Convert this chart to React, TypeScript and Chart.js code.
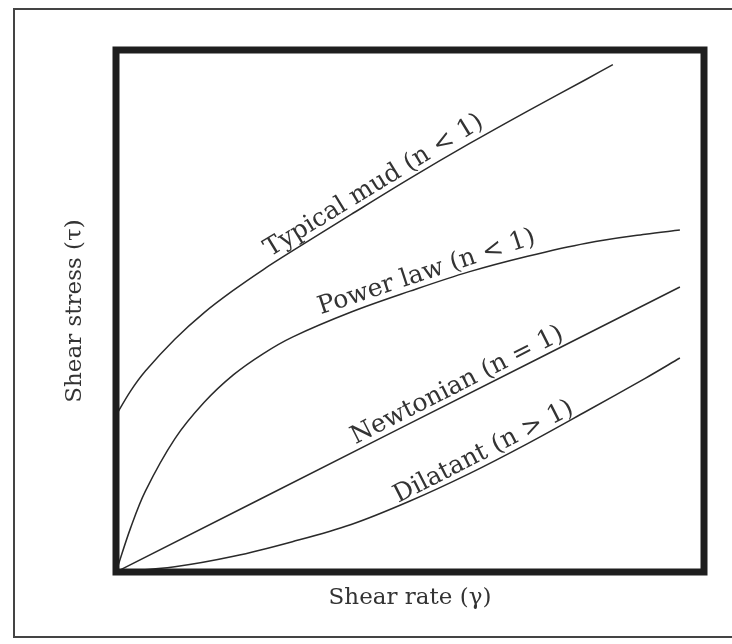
import { useEffect, useRef } from "react";
import { Chart, registerables } from "chart.js";

Chart.register(...registerables);

// Shear rate (fraction of axis) and shear stress (fraction of axis)
const typicalMudX = [0, 0.025, 0.05, 0.1, 0.15, 0.2, 0.25, 0.3, 0.4, 0.5, 0.6, 0.7, 0.8, 0.845];
const typicalMudY = [0.3, 0.347, 0.385, 0.446, 0.497, 0.54, 0.579, 0.615, 0.685, 0.754, 0.82, 0.883, 0.944, 0.972];

const powerLawX = [0, 0.025, 0.05, 0.1, 0.15, 0.2, 0.25, 0.3, 0.4, 0.5, 0.6, 0.7, 0.8, 0.9, 0.959];
const powerLawY = [0, 0.085, 0.155, 0.255, 0.325, 0.378, 0.418, 0.45, 0.498, 0.538, 0.575, 0.605, 0.63, 0.647, 0.655];

const newtonianX = [0, 0.483, 0.959];
const newtonianY = [0, 0.275, 0.546];

const dilatantX = [0, 0.1, 0.2, 0.3, 0.4, 0.5, 0.6, 0.7, 0.8, 0.9, 0.959];
const dilatantY = [0, 0.01, 0.03, 0.058, 0.091, 0.136, 0.188, 0.246, 0.308, 0.371, 0.41];

const curveLabels = ["Typical mud (n < 1)", "Power law (n < 1)", "Newtonian (n = 1)", "Dilatant (n > 1)"];
const labelCenterX = [0.45, 0.535, 0.59, 0.635];

const xAxisTitle = "Shear rate (γ)";
const yAxisTitle = "Shear stress (τ)";

const FONT = "'DejaVu Serif', 'Liberation Serif', serif";
const INK = "#2a2a2a";
const TEXT = "#333333";

export default function App() {
  const ref = useRef<HTMLCanvasElement>(null);

  useEffect(() => {
    const toPts = (xs: number[], ys: number[]) => xs.map((x, i) => ({ x, y: ys[i] }));
    const series = [
      toPts(typicalMudX, typicalMudY),
      toPts(powerLawX, powerLawY),
      toPts(newtonianX, newtonianY),
      toPts(dilatantX, dilatantY),
    ];

    const framePlugin = {
      id: "frame",
      beforeDraw(chart: any) {
        const ctx = chart.ctx;
        ctx.save();
        ctx.fillStyle = "#ffffff";
        ctx.fillRect(0, 0, chart.width, chart.height);
        ctx.strokeStyle = "#444444";
        ctx.lineWidth = 2;
        ctx.strokeRect(14, 9, chart.width + 20, 628);
        ctx.restore();
      },
      afterDatasetsDraw(chart: any) {
        const ctx = chart.ctx;
        const { left, right, top, bottom } = chart.chartArea;
        const xs = chart.scales.x;
        const ys = chart.scales.y;
        ctx.save();
        ctx.strokeStyle = "#1e1e1e";
        ctx.lineWidth = 7;
        ctx.lineJoin = "miter";
        ctx.strokeRect(left, top, right - left, bottom - top);

        const interp = (pts: { x: number; y: number }[], v: number) => {
          for (let i = 1; i < pts.length; i++) {
            if (v <= pts[i].x) {
              const a = pts[i - 1];
              const b = pts[i];
              const t = (v - a.x) / (b.x - a.x);
              return a.y + t * (b.y - a.y);
            }
          }
          return pts[pts.length - 1].y;
        };

        ctx.fillStyle = TEXT;
        ctx.font = `25px ${FONT}`;
        ctx.textAlign = "center";
        ctx.textBaseline = "alphabetic";
        series.forEach((pts, i) => {
          const cx = labelCenterX[i];
          const d = 0.04;
          const px = xs.getPixelForValue(cx);
          const py = ys.getPixelForValue(interp(pts, cx));
          const x1 = xs.getPixelForValue(cx - d);
          const y1 = ys.getPixelForValue(interp(pts, cx - d));
          const x2 = xs.getPixelForValue(cx + d);
          const y2 = ys.getPixelForValue(interp(pts, cx + d));
          const ang = Math.atan2(y2 - y1, x2 - x1);
          ctx.save();
          ctx.translate(px, py);
          ctx.rotate(ang);
          ctx.fillText(curveLabels[i], 0, -6);
          ctx.restore();
        });
        ctx.restore();
      },
    };

    const chart = new Chart(ref.current as HTMLCanvasElement, {
      type: "line",
      data: {
        datasets: series.map((d, i) => ({
          label: curveLabels[i],
          data: d,
          borderColor: INK,
          borderWidth: 1.5,
          pointRadius: 0,
          tension: 0.35,
          fill: false,
        })),
      },
      options: {
        responsive: false,
        animation: false,
        devicePixelRatio: 1,
        layout: { padding: { top: 50, right: 28, left: 0, bottom: 0 } },
        plugins: { legend: { display: false }, tooltip: { enabled: false } },
        scales: {
          x: {
            type: "linear",
            min: 0,
            max: 1,
            grid: { display: false },
            border: { display: false },
            ticks: { display: false },
            title: {
              display: true,
              text: xAxisTitle,
              color: TEXT,
              font: { family: FONT, size: 23 },
              padding: { top: 0, bottom: 32 },
            },
            afterFit(s: any) {
              s.height = 72;
            },
          },
          y: {
            type: "linear",
            min: 0,
            max: 1,
            grid: { display: false },
            border: { display: false },
            ticks: { display: false },
            title: {
              display: true,
              text: yAxisTitle,
              color: TEXT,
              font: { family: FONT, size: 23 },
              padding: { top: 61, bottom: 0 },
            },
            afterFit(s: any) {
              s.width = 116;
            },
          },
        },
      } as any,
      plugins: [framePlugin],
    });
    return () => chart.destroy();
  }, []);

  return (
    <div style={{ position: "fixed", left: 0, top: 0, width: 732, height: 644, background: "#fff" }}>
      <canvas ref={ref} width={732} height={644} style={{ display: "block" }} />
    </div>
  );
}
